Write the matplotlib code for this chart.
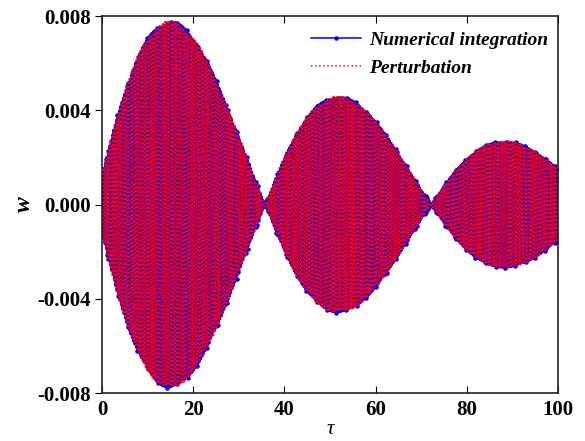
import numpy as np
import matplotlib
matplotlib.use("Agg")
import matplotlib.pyplot as plt

# beat envelope: lobe boundaries (tau) and lobe peak amplitude
lobe_edges = [-1.5, 35.8, 72.2, 108.6]
lobe_peaks = [0.0078, 0.0046, 0.0027]
lobe_skew = 0.6           # damping inside a lobe pulls its peak to the left
carrier_omega = 21.0      # fast oscillation frequency
phase_shift = 0.12        # perturbation solution lags slightly
tau_step = 0.02

xticks = [0, 20, 40, 60, 80, 100]
yticks = [-0.008, -0.004, 0.000, 0.004, 0.008]
ytick_labels = ["-0.008", "-0.004", "0.000", "0.004", "0.008"]


def envelope(tau):
    env = np.zeros_like(tau)
    u_fine = np.linspace(0, 1, 2001)
    shape_max = np.max(np.sin(np.pi * u_fine) * np.exp(-lobe_skew * u_fine))
    for k, amp in enumerate(lobe_peaks):
        a, b = lobe_edges[k], lobe_edges[k + 1]
        m = (tau >= a) & (tau < b)
        u = (tau[m] - a) / (b - a)
        env[m] = amp * np.sin(np.pi * u) * np.exp(-lobe_skew * u) / shape_max
    return env


tau = np.arange(0, 100 + tau_step, tau_step)
env = envelope(tau)
w_num = env * np.sin(carrier_omega * tau + 0.2)
w_pert = env * np.sin(carrier_omega * tau + 0.2 + phase_shift)

plt.rcParams["font.family"] = ["Liberation Serif", "DejaVu Serif"]
plt.rcParams["font.weight"] = "bold"

fig = plt.figure(figsize=(5.85, 4.41), dpi=100)
ax = fig.add_axes([0.1744, 0.1088, 0.7794, 0.8549])

ax.plot(tau, w_num, color="#0000ff", lw=1.1, marker=".", ms=4.5, markevery=7,
        label="Numerical integration")
ax.plot(tau, w_pert, color="#ff0000", lw=1.1, ls=":", label="Perturbation")

ax.set_xlim(0, 100)
ax.set_ylim(-0.008, 0.008)
ax.set_xticks(xticks)
ax.set_xticklabels([str(v) for v in xticks])
ax.set_yticks(yticks)
ax.set_yticklabels(ytick_labels)
ax.tick_params(axis="x", direction="in", top=True, labelsize=15, length=5, pad=5)
ax.tick_params(axis="y", direction="out", right=False, labelsize=15, length=5, pad=3)
for lab in ax.get_xticklabels() + ax.get_yticklabels():
    lab.set_fontweight("bold")
for s in ax.spines.values():
    s.set_linewidth(1.2)
    s.set_color("#222222")

ax.set_xlabel("τ", fontsize=15, fontstyle="italic", fontweight="normal", labelpad=0)
ax.set_ylabel("w", fontsize=17, fontstyle="italic", fontweight="bold", labelpad=2)

leg = ax.legend(loc="upper right", bbox_to_anchor=(1.0, 0.985), frameon=False,
                handlelength=2.6, handletextpad=0.4,
                prop={"style": "italic", "weight": "bold", "size": 14},
                borderpad=0.2, borderaxespad=0.3, labelspacing=0.55)

fig.savefig("out.png", dpi=100)
